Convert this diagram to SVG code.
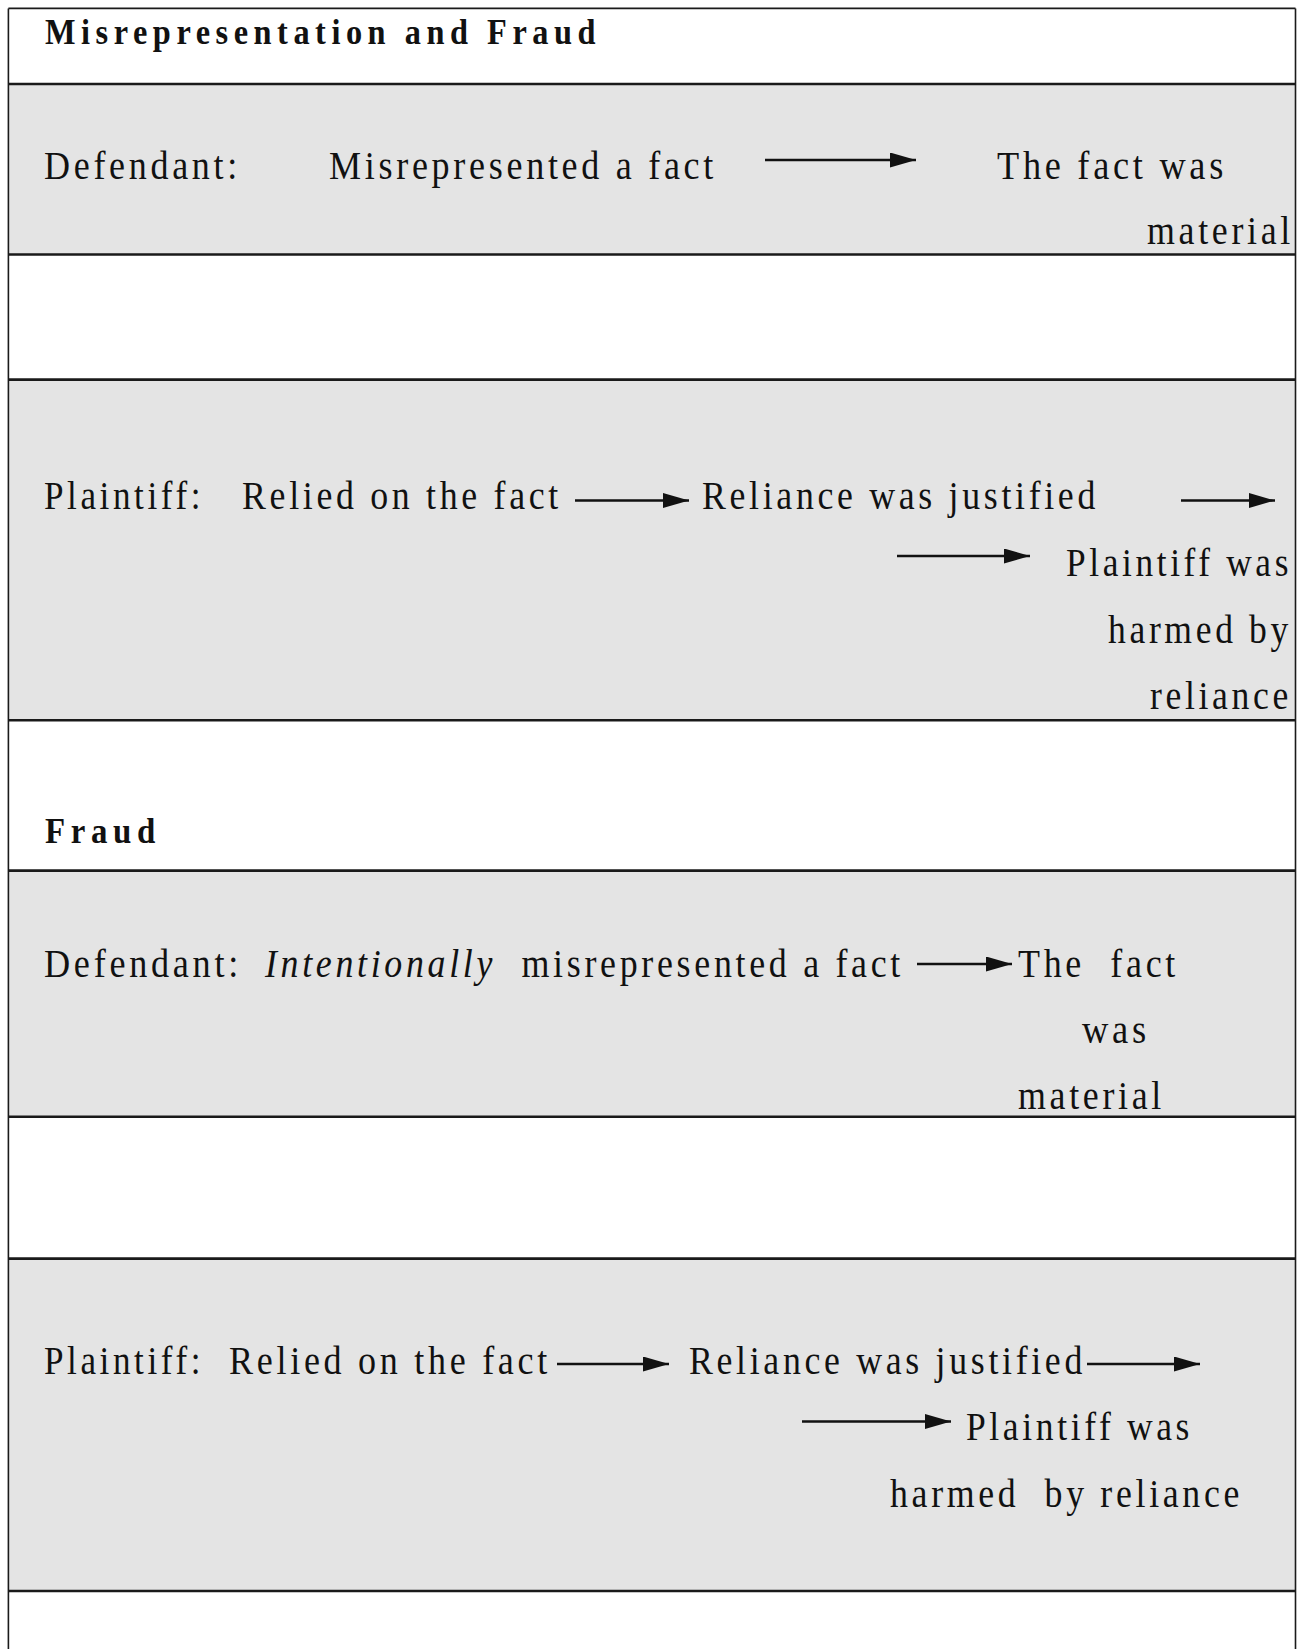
<svg xmlns="http://www.w3.org/2000/svg" width="1306" height="1649" viewBox="0 0 1306 1649">
<style>
.band{fill:#e4e4e4}
.hl{stroke:#1a1a1a;stroke-width:2.6}
.vl{stroke:#1a1a1a;stroke-width:1.6}
.t{font-family:"Liberation Serif","Times New Roman",serif;font-size:39px;letter-spacing:4px;fill:#111;white-space:pre}
.b{font-weight:bold;font-size:35px;letter-spacing:6px}
.i{font-style:italic}
.arr{stroke:#111;stroke-width:2.6;fill:none;marker-end:url(#ah)}
</style>
<defs>
<marker id="ah" viewBox="0 0 26 15" refX="26" refY="7.5" markerWidth="26" markerHeight="15" markerUnits="userSpaceOnUse" orient="auto">
<path d="M0,0 L26,7.5 L0,15 z" fill="#111"/>
</marker>
</defs>
<rect width="1306" height="1649" fill="#fff"/>
<g id="bands">
<rect class="band" x="8" y="84" width="1288" height="170.5"/>
<rect class="band" x="8" y="379.6" width="1288" height="340.7"/>
<rect class="band" x="8" y="870.6" width="1288" height="246.1"/>
<rect class="band" x="8" y="1258.6" width="1288" height="332.4"/>
</g>
<g id="frame">
<line class="vl" x1="8.4" y1="8.4" x2="8.4" y2="1649"/>
<line class="vl" x1="1295.5" y1="8.4" x2="1295.5" y2="1649"/>
<line class="vl" x1="8.4" y1="8.4" x2="1295.5" y2="8.4"/>
<line class="hl" x1="8" y1="84" x2="1296" y2="84"/>
<line class="hl" x1="8" y1="254.5" x2="1296" y2="254.5"/>
<line class="hl" x1="8" y1="379.6" x2="1296" y2="379.6"/>
<line class="hl" x1="8" y1="720.3" x2="1296" y2="720.3"/>
<line class="hl" x1="8" y1="870.6" x2="1296" y2="870.6"/>
<line class="hl" x1="8" y1="1116.7" x2="1296" y2="1116.7"/>
<line class="hl" x1="8" y1="1258.6" x2="1296" y2="1258.6"/>
<line class="hl" x1="8" y1="1591" x2="1296" y2="1591"/>
</g>
<g id="title-misrep"><text class="t b" x="45" y="43.5" textLength="556" lengthAdjust="spacingAndGlyphs">Misrepresentation and Fraud</text></g>
<g id="def1">
<text class="t" x="44" y="178.5" textLength="197" lengthAdjust="spacingAndGlyphs">Defendant:</text>
</g>
<g id="misrep-fact"><text class="t" x="329" y="178.5" textLength="388" lengthAdjust="spacingAndGlyphs">Misrepresented a fact</text></g>
<g id="material1">
<text class="t" x="997" y="178.5" textLength="230" lengthAdjust="spacingAndGlyphs">The fact was</text>
<text class="t" x="1147" y="243.5" textLength="147" lengthAdjust="spacingAndGlyphs">material</text>
</g>
<g id="pl1"><text class="t" x="44" y="509" textLength="160" lengthAdjust="spacingAndGlyphs">Plaintiff:</text></g>
<g id="relied1"><text class="t" x="242" y="509" textLength="320" lengthAdjust="spacingAndGlyphs">Relied on the fact</text></g>
<g id="justified1"><text class="t" x="702" y="509" textLength="397" lengthAdjust="spacingAndGlyphs">Reliance was justified</text></g>
<g id="harmed1">
<text class="t" x="1066" y="575.5" textLength="226" lengthAdjust="spacingAndGlyphs">Plaintiff was</text>
<text class="t" x="1108" y="643" textLength="184" lengthAdjust="spacingAndGlyphs">harmed by</text>
<text class="t" x="1150" y="708.5" textLength="142" lengthAdjust="spacingAndGlyphs">reliance</text>
</g>
<g id="title-fraud"><text class="t b" x="45" y="843" textLength="116" lengthAdjust="spacingAndGlyphs">Fraud</text></g>
<g id="def2">
<text class="t" x="44" y="976.5" textLength="198" lengthAdjust="spacingAndGlyphs">Defendant:</text>
</g>
<g id="intent">
<text class="t i" x="265" y="976.5" textLength="231" lengthAdjust="spacingAndGlyphs">Intentionally</text>
<text class="t" x="521.5" y="976.5" textLength="382.5" lengthAdjust="spacingAndGlyphs">misrepresented a fact</text>
</g>
<g id="material2">
<text class="t" x="1018" y="976.5" textLength="161" lengthAdjust="spacingAndGlyphs">The  fact</text>
<text class="t" x="1082" y="1042.5" textLength="68" lengthAdjust="spacingAndGlyphs">was</text>
<text class="t" x="1018" y="1108.5" textLength="147" lengthAdjust="spacingAndGlyphs">material</text>
</g>
<g id="pl2"><text class="t" x="44" y="1373.5" textLength="160" lengthAdjust="spacingAndGlyphs">Plaintiff:</text></g>
<g id="relied2"><text class="t" x="229" y="1373.5" textLength="322" lengthAdjust="spacingAndGlyphs">Relied on the fact</text></g>
<g id="justified2"><text class="t" x="689" y="1373.5" textLength="397" lengthAdjust="spacingAndGlyphs">Reliance was justified</text></g>
<g id="harmed2">
<text class="t" x="966" y="1440" textLength="227" lengthAdjust="spacingAndGlyphs">Plaintiff was</text>
<text class="t" x="890" y="1506.5" textLength="353" lengthAdjust="spacingAndGlyphs">harmed  by reliance</text>
</g>
<g id="connectors">
<line class="arr" x1="765" y1="160" x2="916" y2="160"/>
<line class="arr" x1="575" y1="500.5" x2="689" y2="500.5"/>
<line class="arr" x1="1181" y1="500.5" x2="1275" y2="500.5"/>
<line class="arr" x1="897" y1="556" x2="1030" y2="556"/>
<line class="arr" x1="917" y1="964" x2="1012" y2="964"/>
<line class="arr" x1="557" y1="1364" x2="669" y2="1364"/>
<line class="arr" x1="1087" y1="1364" x2="1200" y2="1364"/>
<line class="arr" x1="802" y1="1421.5" x2="951" y2="1421.5"/>
</g>
</svg>
